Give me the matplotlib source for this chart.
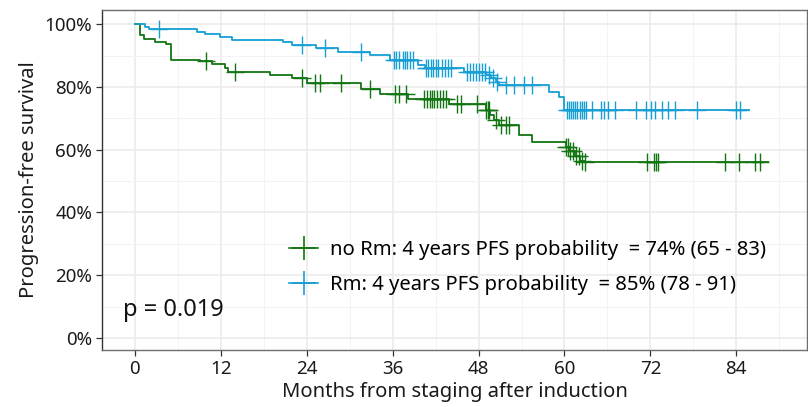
import numpy as np
import matplotlib.pyplot as plt
from matplotlib.ticker import MultipleLocator, FuncFormatter

plt.rcParams['font.family'] = ['Noto Sans', 'DejaVu Sans']

# no Rm arm: step times (months) and survival after each step
norm_times = [0, 0.7, 1.2, 2.8, 4.4, 5.1, 9.1, 10.7, 12.6, 13.0, 18.8, 21.9, 24.0,
              31.6, 34.2, 38.1, 43.9, 49.0, 49.6, 50.1, 50.9, 53.7, 55.5, 60.2, 60.8,
              61.5, 62.2, 62.8]
norm_surv = [1.0, 0.965, 0.954, 0.944, 0.936, 0.887, 0.882, 0.872, 0.859, 0.848, 0.838,
             0.827, 0.811, 0.792, 0.777, 0.763, 0.747, 0.726, 0.710, 0.694, 0.680, 0.646,
             0.625, 0.610, 0.596, 0.580, 0.565, 0.562]
norm_end = 88.4
norm_cens = [9.9, 14.0, 23.4, 25.1, 25.8, 28.8, 32.8, 36.3, 36.9, 37.9, 40.4, 40.8, 41.2,
             41.5, 41.8, 42.2, 42.6, 43.0, 43.4, 45.0, 45.6, 47.8, 49.0, 49.3, 49.5, 50.5,
             51.2, 51.8, 52.3, 60.2, 60.5, 60.8, 61.2, 61.6, 62.0, 62.5, 62.9, 71.5, 72.5,
             72.8, 73.1, 82.4, 84.4, 86.6, 87.3]

# Rm arm
rm_times = [0, 1.4, 1.9, 8.6, 9.8, 11.9, 13.5, 20.7, 22.0, 25.3, 28.3, 32.8, 35.6, 39.5,
            40.5, 46.0, 49.0, 49.7, 50.4, 50.9, 57.9, 59.3, 60.0]
rm_surv = [1.0, 0.99, 0.983, 0.976, 0.970, 0.960, 0.951, 0.944, 0.933, 0.923, 0.910,
           0.901, 0.887, 0.869, 0.859, 0.848, 0.838, 0.827, 0.817, 0.806, 0.785, 0.769,
           0.726]
rm_end = 85.8
rm_cens = [3.3, 23.4, 26.5, 31.6, 36.2, 36.5, 36.9, 37.4, 37.7, 38.0, 38.4, 38.8, 40.7,
           41.0, 41.3, 41.7, 42.1, 42.4, 42.9, 43.3, 43.7, 44.2, 46.4, 46.8, 47.2, 47.6,
           48.0, 48.5, 48.9, 49.4, 50.0, 50.6, 51.8, 53.0, 54.4, 55.5, 60.3, 60.6, 60.9,
           61.2, 61.5, 61.8, 62.1, 62.4, 62.7, 63.0, 63.8, 65.1, 65.5, 66.1, 67.0, 70.0,
           71.4, 72.1, 72.7, 73.6, 74.5, 75.4, 78.5, 83.9, 84.5]

labels = ['no Rm: 4 years PFS probability  = 74% (65 - 83)',
          'Rm: 4 years PFS probability  = 85% (78 - 91)']
colors = ['#117511', '#169fd4']
p_text = 'p = 0.019'


def surv_at(times, surv, t):
    idx = np.searchsorted(times, t, side='right') - 1
    return np.array(surv)[idx]


fig = plt.figure(figsize=(8.08, 4.07), dpi=100)
ax = fig.add_axes([102 / 808, 1 - 350 / 407, 1 - 102 / 808 - 0.001, 340 / 407])

curves = [(norm_times, norm_surv, norm_end, norm_cens),
          (rm_times, rm_surv, rm_end, rm_cens)]
for (t, s, end, cens), col, lab in zip(curves, colors, labels):
    ax.step(t + [end], s + [s[-1]], where='post', color=col, lw=1.3, zorder=3)
    cy = surv_at(t, s, cens)
    ax.plot(cens, cy, ls='none', marker='+', ms=13, mew=1.0, color=col, zorder=4)
    ax.plot([], [], color=col, marker='+', ms=17, mew=1.2, lw=1.2, label=lab)

ax.set_xlim(-4.6, 93.9)
ax.set_ylim(-0.038, 1.045)
ax.xaxis.set_major_locator(MultipleLocator(12))
ax.xaxis.set_minor_locator(MultipleLocator(6))
ax.yaxis.set_major_locator(MultipleLocator(0.2))
ax.yaxis.set_minor_locator(MultipleLocator(0.1))
ax.yaxis.set_major_formatter(FuncFormatter(lambda v, p: f'{v * 100:.0f}%'))
ax.set_xticks(range(0, 85, 12))

ax.grid(which='major', color='#ebebeb', lw=1.2, zorder=0)
ax.grid(which='minor', color='#f3f3f3', lw=0.7, zorder=0)
ax.set_axisbelow(True)
for sp in ax.spines.values():
    sp.set_color('#6e6e6e')
    sp.set_linewidth(1.0)
ax.spines['left'].set_color('#333333')
ax.tick_params(which='major', length=4, width=0.9, color='#333333',
               labelsize=13.5, labelcolor='#1a1a1a', pad=3)
ax.tick_params(which='minor', length=0)

ax.set_xlabel('Months from staging after induction', fontsize=14.5, color='#1a1a1a', labelpad=3)
ax.set_ylabel('Progression-free survival', fontsize=14.5, color='#1a1a1a', labelpad=4)

ax.text(-1.6, 0.09, p_text, fontsize=17, va='center', ha='left', color='#111111')

ax.legend(loc='upper left', bbox_to_anchor=(0.24, 0.378), frameon=False, fontsize=14.6,
          handlelength=1.4, handletextpad=0.6, labelspacing=0.75)

fig.savefig('out.png', dpi=100)
